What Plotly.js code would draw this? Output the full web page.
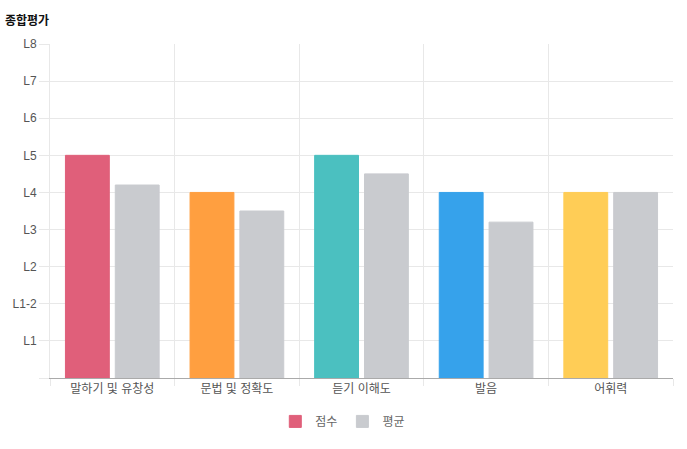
<!DOCTYPE html>
<html>
<head>
<meta charset="utf-8">
<script src="https://cdn.plot.ly/plotly-3.0.1.min.js"></script>
<style>
  html, body { margin: 0; padding: 0; background: #fff; }
  #chart { width: 687px; height: 449px; }
</style>
</head>
<body>
<div id="chart"></div>
<script>
// 항목 및 점수 (0 = 바닥, 1 = L1 ... 9 = L8)
var categories = ["말하기 및 유창성", "문법 및 정확도", "듣기 이해도", "발음", "어휘력"];
var scoreValues = [6, 5, 6, 5, 5];
var averageValues = [5.2, 4.5, 5.5, 4.2, 5];
var levelTicks = [0, 1, 2, 3, 4, 5, 6, 7, 8, 9];
var levelLabels = ["", "L1", "L1-2", "L2", "L3", "L4", "L5", "L6", "L7", "L8"];

var scoreColors = ["#E05F7A", "#FF9F40", "#4BC0C0", "#36A2EB", "#FFCD56"];
var averageColor = "#C9CBCF";

function plotSummary() {
  var score = {
    x: categories,
    y: scoreValues,
    type: "bar",
    name: "점수",
    marker: {
      color: scoreColors,
      line: { color: scoreColors, width: 1 }
    },
    hoverinfo: "none"
  };
  var average = {
    x: categories,
    y: averageValues,
    type: "bar",
    name: "평균",
    marker: {
      color: averageColor,
      line: { color: averageColor, width: 1 }
    },
    hoverinfo: "none"
  };
  var data = [score, average];
  var layout = {
    width: 687,
    height: 449,
    margin: { l: 50, r: 14, t: 44, b: 71 },
    paper_bgcolor: "#fff",
    plot_bgcolor: "#fff",
    font: { family: "Liberation Sans, Noto Sans CJK KR, sans-serif", size: 12, color: "#666" },
    title: {
      text: "<b>종합평가</b>",
      font: { family: "Noto Sans CJK KR, sans-serif", size: 12, color: "#111" },
      xref: "paper",
      x: 0,
      xanchor: "left",
      y: 0.962,
      yref: "container",
      pad: { l: -45 }
    },
    barmode: "group",
    bargap: 0.2,
    bargroupgap: 0.12,
    showlegend: true,
    legend: {
      orientation: "h",
      x: 0.47,
      xanchor: "center",
      y: -0.13,
      yanchor: "middle",
      font: { size: 12, color: "#666" }
    },
    xaxis: {
      type: "category",
      tickson: "boundaries",
      showgrid: true,
      gridcolor: "#e8e8e8",
      ticks: "outside",
      ticklen: 7,
      tickcolor: "#e8e8e8",
      showline: true,
      linecolor: "#aaa",
      tickfont: { size: 12, color: "#555" },
      fixedrange: true
    },
    yaxis: {
      range: [0, 9],
      tickvals: levelTicks,
      ticktext: levelLabels,
      showgrid: true,
      gridcolor: "#e8e8e8",
      zeroline: false,
      ticks: "outside",
      ticklen: 10,
      tickcolor: "#e8e8e8",
      showline: true,
      linecolor: "#e8e8e8",
      tickfont: { size: 12, color: "#555" },
      fixedrange: true
    }
  };
  Plotly.newPlot("chart", data, layout, { displayModeBar: false, staticPlot: true });
}
plotSummary();
</script>
</body>
</html>
